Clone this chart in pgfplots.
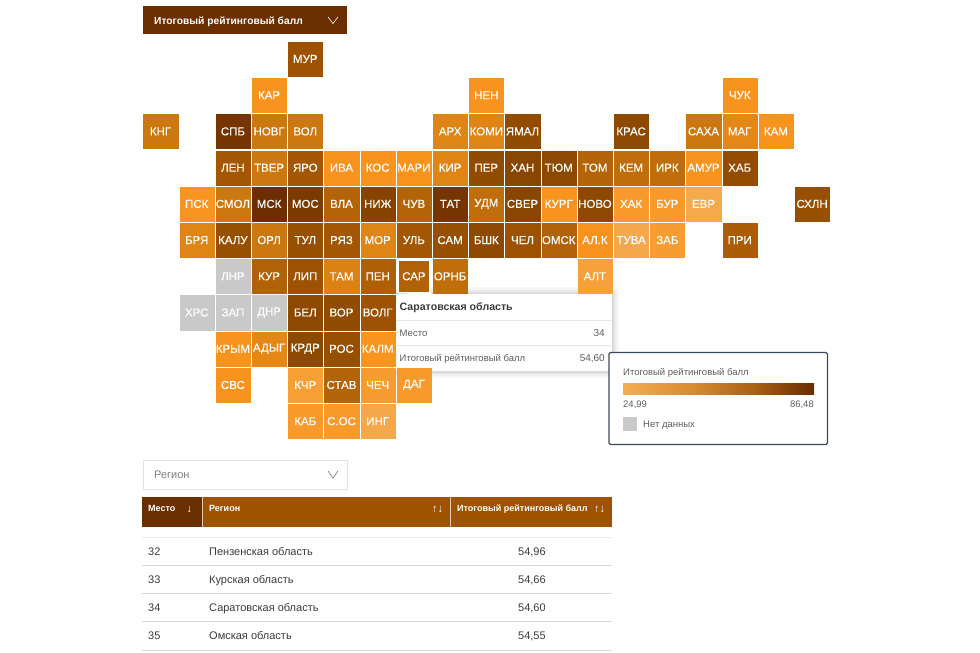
\documentclass[border=0pt]{standalone}
\usepackage{fontspec}
\setmainfont{Liberation Sans}
\newfontfamily\tilefont[FakeBold=0.1]{Liberation Sans}
\usepackage{pgfplots}
\pgfplotsset{compat=1.18}
\usepackage{pgfplotstable}

\definecolor{darkbrown}{HTML}{6B2E00}
\definecolor{headbrown}{HTML}{9E5300}
\definecolor{nodata}{HTML}{C9C9C9}
\definecolor{txt}{HTML}{3C3C3C}
\definecolor{txtgrey}{HTML}{5E5E5E}
\definecolor{rule}{HTML}{D4D6D9}
\definecolor{frame}{HTML}{3B4A5A}
\definecolor{c1}{HTML}{F5AD55}
\definecolor{c2}{HTML}{D88B30}
\definecolor{c3}{HTML}{A65E14}
\definecolor{c4}{HTML}{6A2B00}

% tikz shows only the middle 50bp of a shading
\pgfdeclarehorizontalshading{ratingbar}{100bp}{
  color(0bp)=(c1); color(25bp)=(c1); color(43bp)=(c2); color(60bp)=(c3); color(75bp)=(c4); color(100bp)=(c4)}

% tile centres in picture pixels, score, label
\pgfplotstableread{
px py value label
305.3 59 60 МУР
269.1 95.2 40 КАР
486.3 95.2 40 НЕН
739.7 95.2 40 ЧУК
160.5 131.4 50 КНГ
232.9 131.4 80 СПБ
269.1 131.4 50 НОВГ
305.3 131.4 50 ВОЛ
450.1 131.4 47 АРХ
486.3 131.4 47 КОМИ
522.5 131.4 64 ЯМАЛ
631.1 131.4 66 КРАС
703.5 131.4 50 САХА
739.7 131.4 46 МАГ
775.9 131.4 40 КАМ
232.9 167.7 58 ЛЕН
269.1 167.7 50 ТВЕР
305.3 167.7 58 ЯРО
341.5 167.7 40 ИВА
377.7 167.7 40 КОС
413.9 167.7 42 МАРИ
450.1 167.7 47 КИР
486.3 167.7 64 ПЕР
522.5 167.7 68 ХАН
558.7 167.7 66 ТЮМ
594.9 167.7 54 ТОМ
631.1 167.7 52 КЕМ
667.3 167.7 52 ИРК
703.5 167.7 40 АМУР
739.7 167.7 63 ХАБ
196.7 203.9 38 ПСК
232.9 203.9 50 СМОЛ
269.1 203.9 85 МСК
305.3 203.9 76 МОС
341.5 203.9 54 ВЛА
377.7 203.9 70 НИЖ
413.9 203.9 54 ЧУВ
450.1 203.9 80 ТАТ
486.3 203.9 52 УДМ
522.5 203.9 68 СВЕР
558.7 203.9 40 КУРГ
594.9 203.9 66 НОВО
631.1 203.9 35 ХАК
667.3 203.9 35 БУР
703.5 203.9 27 ЕВР
812.1 203.9 62 СХЛН
196.7 240.1 47 БРЯ
232.9 240.1 62 КАЛУ
269.1 240.1 50 ОРЛ
305.3 240.1 62 ТУЛ
341.5 240.1 58 РЯЗ
377.7 240.1 47 МОР
413.9 240.1 58 УЛЬ
450.1 240.1 62 САМ
486.3 240.1 66 БШК
522.5 240.1 60 ЧЕЛ
558.7 240.1 54.55 ОМСК
594.9 240.1 41 АЛ.К
631.1 240.1 28 ТУВА
667.3 240.1 34 ЗАБ
739.7 240.1 56 ПРИ
269.1 276.3 54.66 КУР
305.3 276.3 60 ЛИП
341.5 276.3 48 ТАМ
377.7 276.3 54.96 ПЕН
450.1 276.3 52 ОРНБ
594.9 276.3 32 АЛТ
305.3 312.5 66 БЕЛ
341.5 312.5 64 ВОР
377.7 312.5 60 ВОЛГ
232.9 348.8 40 КРЫМ
269.1 348.8 46 АДЫГ
305.3 348.8 66 КРДР
341.5 348.8 62 РОС
377.7 348.8 38 КАЛМ
232.9 385 40 СВС
305.3 385 33 КЧР
341.5 385 54 СТАВ
377.7 385 34 ЧЕЧ
413.9 385 35 ДАГ
305.3 421.2 35 КАБ
341.5 421.2 35 С.ОС
377.7 421.2 28 ИНГ
}\tiles

\pgfplotstableread{
px py label
232.9 276.3 ЛНР
196.7 312.5 ХРС
232.9 312.5 ЗАП
269.1 312.5 ДНР
}\greytiles

\pgfplotstableread{
px py value label
413.9 276.3 54.60 САР
}\hovertile

\pgfplotsset{
  tilelabels/.style={
    only marks, mark=*, mark size=0pt, mark options={draw=none, fill=none},
    point meta=explicit symbolic,
    nodes near coords,
    every node near coord/.append style={
      anchor=center, inner sep=0pt, text=white,
      font=\tilefont\fontsize{11.5}{12}\selectfont},
  },
}

\newcommand{\txtl}[5]{\node[anchor=mid west,inner sep=0pt,yshift=-1.5pt,text=#3,font=\fontsize{#4}{#4}\selectfont] at (axis cs:#1,#2) {#5};}
\newcommand{\txtr}[5]{\node[anchor=mid east,inner sep=0pt,yshift=-1.5pt,text=#3,font=\fontsize{#4}{#4}\selectfont] at (axis cs:#1,#2) {#5};}

\begin{document}
\begin{tikzpicture}
\begin{axis}[
    x=1pt, y=1pt, y dir=reverse,
    scale only axis,
    xmin=0, xmax=980, ymin=0, ymax=653,
    hide axis, clip=false,
    colormap={rating}{
      rgb255(0pt)=(244,172,84);
      rgb255(5pt)=(246,165,66);
      rgb255(12pt)=(247,150,34);
      rgb255(17pt)=(247,146,26);
      rgb255(23pt)=(218,130,20);
      rgb255(25.5pt)=(200,117,15);
      rgb255(30pt)=(175,95,6);
      rgb255(35pt)=(156,82,0);
      rgb255(43pt)=(136,70,0);
      rgb255(61.5pt)=(106,43,0)},
]
% full page background, keeps the picture at 980x653
\fill[white] (axis cs:0,0) rectangle (axis cs:980,653);

% header dropdown
\fill[darkbrown] (axis cs:143,6) rectangle (axis cs:347,34);
\txtl{154}{20}{white}{10.25}{\bfseries Итоговый рейтинговый балл}
\draw[white,line width=.6pt] (axis cs:328,17) -- (axis cs:333,23.5) -- (axis cs:338,17);

% tiles
\addplot[scatter, only marks, mark=square*, mark size=17.1pt, point meta=explicit,
    point meta min=24.99, point meta max=86.48,
    scatter/use mapped color={draw=mapped color, fill=mapped color, line width=.1pt}]
  table[x=px, y=py, meta=value] {\tiles};
\addplot[only marks, mark=square*, mark size=17.1pt, mark options={draw=nodata, fill=nodata, line width=.1pt}]
  table[x=px, y=py] {\greytiles};
\addplot[scatter, only marks, mark=square*, mark size=15.9pt, point meta=explicit,
    point meta min=24.99, point meta max=86.48,
    scatter/use mapped color={draw=white, fill=mapped color, line width=1.2pt}]
  table[x=px, y=py, meta=value] {\hovertile};

% labels on the tiles
\addplot[tilelabels] table[x=px, y=py, meta=label] {\tiles};
\addplot[tilelabels] table[x=px, y=py, meta=label] {\greytiles};
\addplot[tilelabels] table[x=px, y=py, meta=label] {\hovertile};

% tooltip
\fill[black,opacity=.03,rounded corners=3pt] (axis cs:387,287) rectangle (axis cs:619,378);
\fill[black,opacity=.03,rounded corners=3pt] (axis cs:389,289) rectangle (axis cs:617,376);
\fill[black,opacity=.04,rounded corners=3pt] (axis cs:391,291) rectangle (axis cs:615,374);
\fill[black,opacity=.05,rounded corners=2pt] (axis cs:392.5,292.5) rectangle (axis cs:613.5,372.5);
\fill[white] (axis cs:394,294) rectangle (axis cs:612,371);
\fill[white] (axis cs:407,294) -- (axis cs:419.5,280) -- (axis cs:432,294) -- cycle;
\txtl{399.5}{306}{txt}{10.6}{\bfseries Саратовская область}
\draw[rule!60,line width=.7pt] (axis cs:394,320.5) -- (axis cs:612,320.5);
\draw[rule!60,line width=.7pt] (axis cs:394,345) -- (axis cs:612,345);
\txtl{399.5}{332.5}{txtgrey}{9.5}{Место}
\txtr{605}{332.5}{txtgrey}{10}{34}
\txtl{399.5}{357.5}{txtgrey}{9.5}{Итоговый рейтинговый балл}
\txtr{605}{357.5}{txtgrey}{10}{54,60}

% legend
\draw[frame,line width=1.2pt,fill=white,rounded corners=1.5pt] (axis cs:609,352.5) rectangle (axis cs:827.5,444.5);
\txtl{623}{371}{txtgrey}{9.5}{Итоговый рейтинговый балл}
\path[shading=ratingbar] (axis cs:623,383) rectangle (axis cs:814,394);
\txtl{623}{403.5}{txtgrey}{9.5}{24,99}
\txtr{814}{403.5}{txtgrey}{9.5}{86,48}
\fill[nodata] (axis cs:623,417) rectangle (axis cs:637,431);
\txtl{643}{423}{txtgrey}{9.5}{Нет данных}

% region dropdown
\draw[rule!70,line width=.7pt] (axis cs:143,460) rectangle (axis cs:347.5,489.5);
\txtl{154}{474.5}{txtgrey!80}{11}{Регион}
\draw[txtgrey,line width=.5pt] (axis cs:328,471) -- (axis cs:333,478) -- (axis cs:338,471);

% table
\fill[headbrown] (axis cs:142,497) rectangle (axis cs:612,527);
\fill[darkbrown] (axis cs:142,497) rectangle (axis cs:202,527);
\draw[white!70!headbrown,line width=.6pt] (axis cs:202.5,497) -- (axis cs:202.5,527);
\draw[white!70!headbrown,line width=.6pt] (axis cs:450.5,497) -- (axis cs:450.5,527);
\txtl{148}{507}{white}{9}{\bfseries Место}
\txtl{186.5}{508.5}{white}{11}{↓}
\txtl{209}{507}{white}{9}{\bfseries Регион}
\txtl{432}{508.5}{white}{11}{↑↓}
\txtl{457}{507}{white}{9}{\bfseries Итоговый рейтинговый балл}
\txtl{594}{508.5}{white}{11}{↑↓}

\draw[rule!50,line width=.7pt] (axis cs:142,537) -- (axis cs:612,537);
\draw[rule,line width=.7pt] (axis cs:142,565.5) -- (axis cs:612,565.5);
\draw[rule,line width=.7pt] (axis cs:142,593.5) -- (axis cs:612,593.5);
\draw[rule,line width=.7pt] (axis cs:142,621.5) -- (axis cs:612,621.5);
\draw[rule,line width=.7pt] (axis cs:142,650) -- (axis cs:612,650);

\txtl{148}{551}{txt}{11}{32}
\txtl{209}{551}{txt}{11}{Пензенская область}
\txtl{518}{551}{txt}{11}{54,96}
\txtl{148}{579}{txt}{11}{33}
\txtl{209}{579}{txt}{11}{Курская область}
\txtl{518}{579}{txt}{11}{54,66}
\txtl{148}{607.5}{txt}{11}{34}
\txtl{209}{607.5}{txt}{11}{Саратовская область}
\txtl{518}{607.5}{txt}{11}{54,60}
\txtl{148}{635.5}{txt}{11}{35}
\txtl{209}{635.5}{txt}{11}{Омская область}
\txtl{518}{635.5}{txt}{11}{54,55}
\end{axis}
\end{tikzpicture}
\end{document}
